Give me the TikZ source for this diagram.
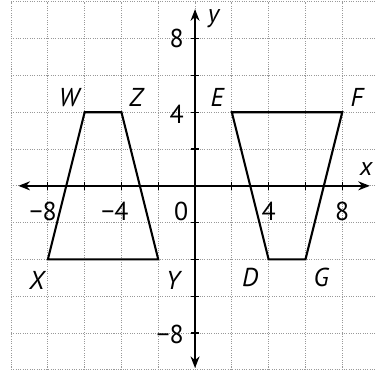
\documentclass[tikz,border=0pt]{standalone}
\usepackage{fontspec}
\setmainfont{PT Sans}
\usetikzlibrary{arrows.meta}

\begin{document}
\begin{tikzpicture}[x=0.5cm,y=0.5cm,font=\fontsize{20}{24}\selectfont,
  gridln/.style={gray!80,densely dotted,line width=0.8pt},
  axis/.style={{Stealth[length=9pt,width=7pt]}-{Stealth[length=9pt,width=7pt]},line width=1.1pt},
  tick/.style={line width=0.9pt},
  trap/.style={line width=1.6pt},
  pt/.style={font=\fontsize{20}{24}\selectfont\itshape,inner sep=0pt},
  num/.style={inner sep=0pt}]
\useasboundingbox (-10.6,-10.16) rectangle (9.78,10.1);
\draw[gridln,step=2] (-10,-10) grid (9.78,10);
% axes
\coordinate (xl) at (-9.6,0);\coordinate (xr) at (9.5,0);
\coordinate (yt) at (0,9.6);\coordinate (yb) at (0,-9.9);
\foreach \t in {-8,-6,-4,-2,2,4,6,8}{
  \draw[tick] (\t,-0.22)--(\t,0.22);
  \draw[tick] (-0.22,\t)--(0.22,\t);}
\draw[axis](xl)--(xr);\draw[axis](yt)--(yb);
\node[pt] (lx) at (9.3,0.9) {x};
\node[pt] (ly) at (1.0,9.1) {y};
% scale numbers
\node[num,anchor=east] (ny8) at (-0.6,8) {8};
\node[num,anchor=east] (ny4) at (-0.6,3.9) {4};
\node[num,anchor=east] (nym8) at (-0.6,-8.1) {−8};
\node[num,anchor=east] (nxm8) at (-7.5,-1.4) {−8};
\node[num,anchor=east] (nxm4) at (-3.6,-1.4) {−4};
\node[num] (nx0) at (-0.75,-1.4) {0};
\node[num] (nx4) at (4,-1.4) {4};
\node[num] (nx8) at (8,-1.4) {8};
% left trapezoid
\coordinate (W) at (-6,4);\coordinate (Z) at (-4,4);
\coordinate (Y) at (-2,-4);\coordinate (X) at (-8,-4);
\draw[trap](W)--(Z)--(Y)--(X)--cycle;
\node[pt] (lW) at (-6.85,4.8) {W};
\node[pt] (lZ) at (-3.2,4.8) {Z};
\node[pt] (lX) at (-8.6,-5.15) {X};
\node[pt] (lY) at (-1.2,-5.15) {Y};
% right trapezoid
\coordinate (E) at (2,4);\coordinate (F) at (8,4);
\coordinate (G) at (6,-4);\coordinate (D) at (4,-4);
\draw[trap](E)--(F)--(G)--(D)--cycle;
\node[pt] (lE) at (1.2,4.8) {E};
\node[pt] (lF) at (8.8,4.8) {F};
\node[pt] (lD) at (3,-5) {D};
\node[pt] (lG) at (6.85,-5) {G};
\end{tikzpicture}
\end{document}
